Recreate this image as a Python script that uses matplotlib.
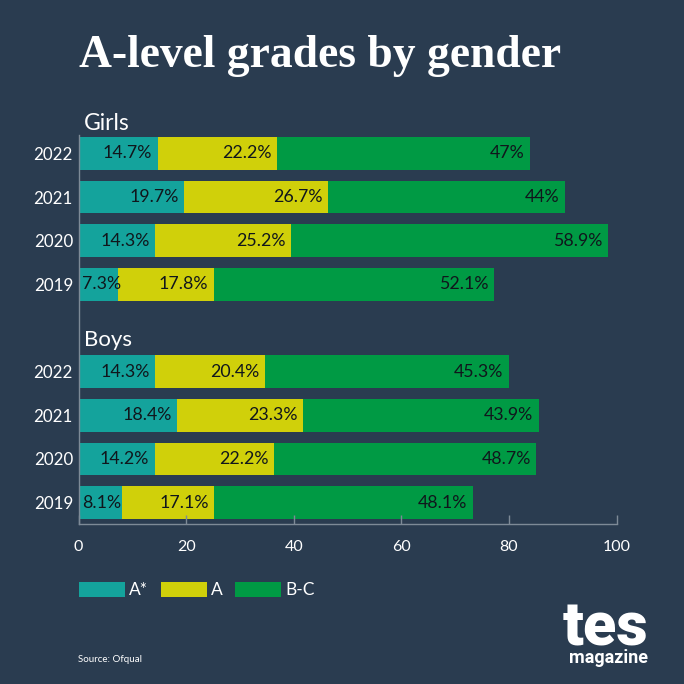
import matplotlib
matplotlib.use('Agg')
from matplotlib import pyplot as plt

years = ['2022', '2021', '2020', '2019']
girls_astar = [14.7, 19.7, 14.3, 7.3]
girls_a = [22.2, 26.7, 25.2, 17.8]
girls_bc = [47, 44, 58.9, 52.1]
boys_astar = [14.3, 18.4, 14.2, 8.1]
boys_a = [20.4, 23.3, 22.2, 17.1]
boys_bc = [45.3, 43.9, 48.7, 48.1]
xticks = [0, 20, 40, 60, 80, 100]

BG = '#2a3c50'
TEAL = '#14a39c'
YELLOW = '#d0d00a'
GREEN = '#009a44'
AXIS = '#7d8a97'
W = H = 684

plt.rcParams['font.family'] = ['Lato', 'DejaVu Sans']

fig = plt.figure(figsize=(6.84, 6.84), dpi=100, facecolor=BG)
ax = fig.add_axes([78.5 / W, 1 - 523.5 / H, 538 / W, 388.5 / H], facecolor='none')

def fmt(v):
    return f'{v:g}%'

def draw_group(rows, astar, a, bc):
    lefts = [0] * len(rows)
    for vals, col, label in [(astar, TEAL, 'A*'), (a, YELLOW, 'A'), (bc, GREEN, 'B-C')]:
        ax.barh(rows, vals, left=lefts, height=0.75, color=col, label=label)
        for r, v, l in zip(rows, vals, lefts):
            if v < 10:
                # too narrow, text starts at the axis instead
                ax.annotate(fmt(v), (l, r), xytext=(2.4, 0), textcoords='offset points',
                            ha='left', va='center', fontsize=12.8, color='#10161c')
            else:
                ax.annotate(fmt(v), (l + v, r), xytext=(-4, 0), textcoords='offset points',
                            ha='right', va='center', fontsize=12.8, color='#10161c')
        lefts = [l + v for l, v in zip(lefts, vals)]

girl_rows = [0, 1, 2, 3]
boy_rows = [5, 6, 7, 8]
draw_group(girl_rows, girls_astar, girls_a, girls_bc)
draw_group(boy_rows, boys_astar, boys_a, boys_bc)

ax.set_xlim(0, 100)
ax.set_ylim(8.481, -0.424)
ax.set_yticks(girl_rows + boy_rows, years + years)
ax.set_xticks(xticks)
ax.tick_params(axis='y', length=0, pad=4, labelsize=12.2, labelcolor='white')
ax.tick_params(axis='x', direction='in', length=6.5, width=1, color=AXIS, pad=12,
               labelsize=11.5, labelcolor='white')
for loc, spine in ax.spines.items():
    if loc in ('left', 'bottom'):
        spine.set_color(AXIS)
        spine.set_linewidth(1)
    else:
        spine.set_visible(False)

fig.text(84 / W, 1 - 123 / H, 'Girls', color='white', fontsize=16.5, va='center', ha='left')
fig.text(84 / W, 1 - 340 / H, 'Boys', color='white', fontsize=16, va='center', ha='left')

fig.text(79 / W, 1 - 67 / H, 'A-level grades by gender', color='white', fontsize=32.8,
         family='Liberation Serif', weight='bold', va='baseline', ha='left')

handles, labels = ax.get_legend_handles_labels()
leg = fig.legend(handles[:3], labels[:3], ncol=3, loc='upper left',
                 bbox_to_anchor=(79 / W, 1 - 582 / H), frameon=False, fontsize=12.5,
                 labelcolor='white', borderpad=0, borderaxespad=0, handlelength=2.65,
                 handleheight=0.92, handletextpad=0.24, columnspacing=0.72)

fig.text(78.5 / W, 1 - 659 / H, 'Source: Ofqual', color='white', fontsize=7, va='center', ha='left')

# logo
fig.text(648 / W, 1 - 646 / H, 'tes', color='white', fontsize=44, family='Roboto', weight='black',
         va='baseline', ha='right')
fig.text(609 / W, 1 - 658 / H, 'magazine', color='white', fontsize=13, family='Roboto', weight='bold',
         va='center', ha='center')

fig.savefig('out.png', dpi=100, facecolor=BG)
